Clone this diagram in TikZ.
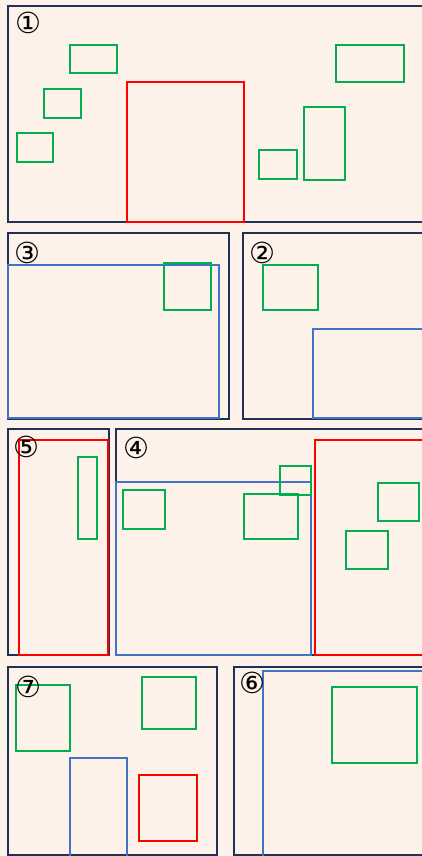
\documentclass[tikz,border=0pt]{standalone}
\usepackage{fontspec}
\newfontfamily\circfont{DejaVu Sans}
\usetikzlibrary{positioning}
\definecolor{bgcolor}{RGB}{252, 242, 234}
\definecolor{panelcolor}{RGB}{31, 50, 82}
\definecolor{greencolor}{RGB}{0, 176, 80}
\definecolor{redcolor}{RGB}{255, 0, 0}
\definecolor{bluecolor}{RGB}{68, 114, 196}

\begin{document}
\begin{tikzpicture}[
    x=1pt, y=-1pt,
    % Panel frame style
    panel/.style={
        draw=panelcolor,
        line width=2.8pt,
        fill=bgcolor
    },
    % Box styles
    gbox/.style={draw=greencolor, line width=2.8pt},
    rbox/.style={draw=redcolor, line width=2.8pt},
    bbox/.style={draw=bluecolor, line width=2.8pt},
    % Panel number style
    num/.style={
        font=\circfont\fontsize{29}{29}\selectfont,
        text=black,
        inner sep=0pt
    }
]

% ===== CANVAS =====
\fill[bgcolor] (0,0) rectangle (422,856);
\useasboundingbox (0,0) rectangle (422,856);
\clip (0,0) rectangle (422,856);

% ===== PANEL 1 (TOP) =====
\draw[panel] (8,6) rectangle (430,222);
\draw[rbox] (127,82) rectangle (244,222);
\draw[gbox] (70,45) rectangle (117,73);
\draw[gbox] (44,89) rectangle (81,118);
\draw[gbox] (17,133) rectangle (53,162);
\draw[gbox] (336,45) rectangle (404,82);
\draw[gbox] (259,150) rectangle (297,179);
\draw[gbox] (304,107) rectangle (345,180);
\node[num] (n1) at (28,23) {①};

% ===== PANEL 3 =====
\draw[panel] (8,233) rectangle (229,419);
\draw[bbox] (8,265) rectangle (219,418);
\draw[gbox] (164,263) rectangle (211,310);
\node[num] (n3) at (27,253) {③};

% ===== PANEL 2 =====
\draw[panel] (243,233) rectangle (430,419);
\draw[bbox] (313,329) rectangle (430,418);
\draw[gbox] (263,265) rectangle (318,310);
\node[num] (n2) at (262,253) {②};

% ===== PANEL 5 =====
\draw[panel] (8,429) rectangle (109,655);
\draw[rbox] (19,440) rectangle (108,655);
\draw[gbox] (78,457) rectangle (97,539);
\node[num] (n5) at (26,447) {⑤};

% ===== PANEL 4 =====
\draw[panel] (116,429) rectangle (430,655);
\draw[bbox] (116,482) rectangle (311,655);
\draw[rbox] (315,440) rectangle (430,655);
\draw[gbox] (123,490) rectangle (165,529);
\draw[gbox] (244,494) rectangle (298,539);
\draw[gbox] (280,466) rectangle (311,495);
\draw[gbox] (378,483) rectangle (419,521);
\draw[gbox] (346,531) rectangle (388,569);
\node[num] (n4) at (136,448) {④};

% ===== PANEL 7 =====
\draw[panel] (8,667) rectangle (217,855);
\draw[bbox] (70,758) rectangle (127,860);
\draw[rbox] (139,775) rectangle (197,841);
\draw[gbox] (16,685) rectangle (70,751);
\draw[gbox] (142,677) rectangle (196,729);
\node[num] (n7) at (28,687) {⑦};

% ===== PANEL 6 =====
\draw[panel] (234,667) rectangle (430,855);
\draw[bbox] (263,671) rectangle (430,860);
\draw[gbox] (332,687) rectangle (417,763);
\node[num] (n6) at (252,683) {⑥};

\end{tikzpicture}
\end{document}
